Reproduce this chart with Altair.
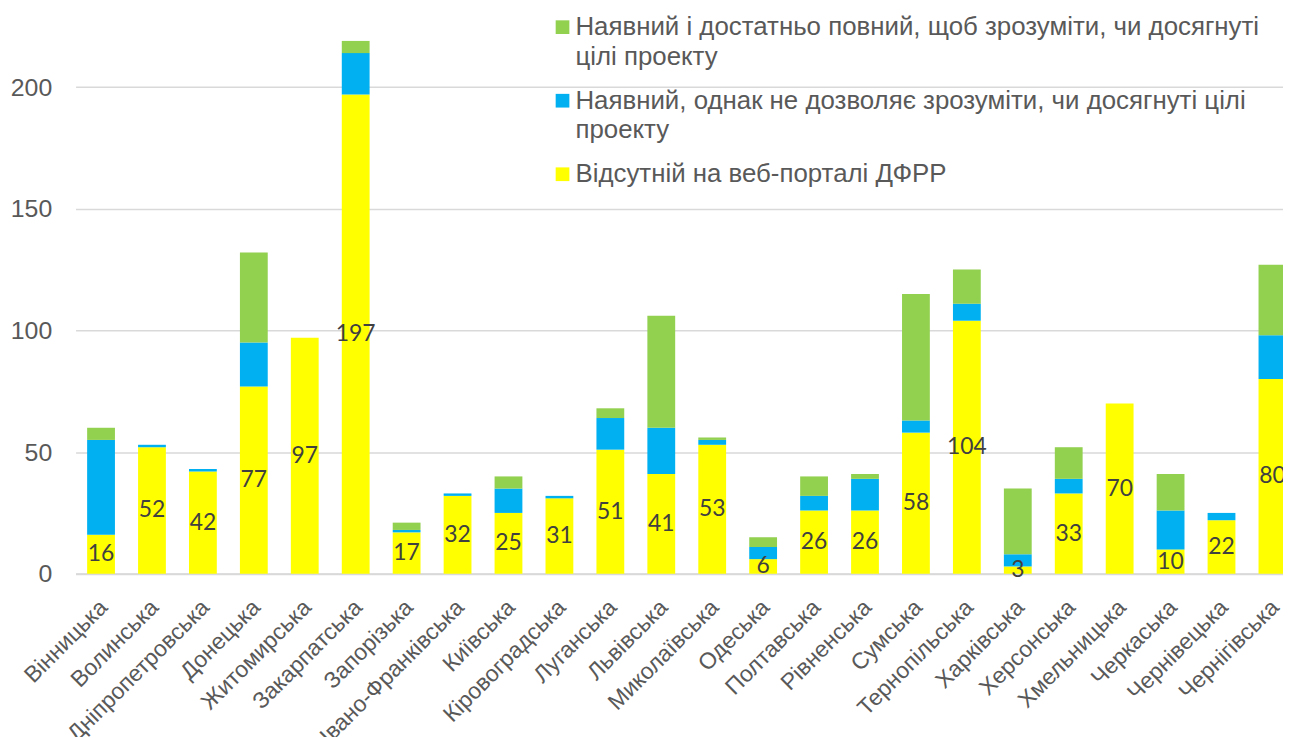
import altair as alt
import pandas as pd

regions = ["Вінницька", "Волинська", "Дніпропетровська", "Донецька", "Житомирська",
           "Закарпатська", "Запорізька", "Івано-Франківська", "Київська", "Кіровоградська",
           "Луганська", "Львівська", "Миколаївська", "Одеська", "Полтавська", "Рівненська",
           "Сумська", "Тернопільська", "Харківська", "Херсонська", "Хмельницька",
           "Черкаська", "Чернівецька", "Чернігівська"]

s_full = "Наявний і достатньо повний, щоб зрозуміти, чи досягнуті цілі проекту"
s_part = "Наявний, однак не дозволяє зрозуміти, чи досягнуті цілі проекту"
s_abs = "Відсутній на веб-порталі ДФРР"

absent = [16, 52, 42, 77, 97, 197, 17, 32, 25, 31, 51, 41, 53, 6, 26, 26, 58, 104, 3, 33, 70, 10, 22, 80]
partial = [39, 1, 1, 18, 0, 17, 1, 1, 10, 1, 13, 19, 2, 5, 6, 13, 5, 7, 5, 6, 0, 16, 3, 18]
full = [5, 0, 0, 37, 0, 5, 3, 0, 5, 0, 4, 46, 1, 4, 8, 2, 52, 14, 27, 13, 0, 15, 0, 29]

series_order = [s_full, s_part, s_abs]
colors = ["#92D050", "#00B0F0", "#FFFF00"]
legend_lines = {
    s_full: ["Наявний і достатньо повний, щоб зрозуміти, чи досягнуті", "цілі проекту"],
    s_part: ["Наявний, однак не дозволяє зрозуміти, чи досягнуті цілі", "проекту"],
}

rows = []
for i, r in enumerate(regions):
    rows.append({"region": r, "series": s_abs, "value": absent[i], "ord": 0})
    rows.append({"region": r, "series": s_part, "value": partial[i], "ord": 1})
    rows.append({"region": r, "series": s_full, "value": full[i], "ord": 2})
df = pd.DataFrame(rows)

def arr(lines):
    return "[" + ", ".join("'" + l + "'" for l in lines) + "]"

label_expr = ("datum.label == '" + s_full + "' ? " + arr(legend_lines[s_full]) +
              " : datum.label == '" + s_part + "' ? " + arr(legend_lines[s_part]) +
              " : datum.label")

x_enc = alt.X("region:N", sort=regions, title=None,
              scale=alt.Scale(range=[0, 1230], paddingInner=0.454, paddingOuter=0.227),
              axis=alt.Axis(labelAngle=-45, labelFontSize=23, labelColor="#595959",
                            labelFont="Liberation Sans", labelPadding=22, labelOffset=-5,
                            ticks=False, domainColor="#D9D9D9", domainWidth=2,
                            labelLimit=400))

bars = alt.Chart(df).mark_bar().encode(
    x=x_enc,
    y=alt.Y("value:Q", stack="zero", title=None,
            scale=alt.Scale(domain=[0, 231.6], nice=False),
            axis=alt.Axis(values=[0, 50, 100, 150, 200], labelFontSize=25,
                          labelColor="#595959", labelFont="Liberation Sans",
                          labelPadding=24, domain=False, ticks=False,
                          gridColor="#D9D9D9", gridWidth=1.5)),
    color=alt.Color("series:N", scale=alt.Scale(domain=series_order, range=colors),
                    legend=alt.Legend(title=None, orient="none", legendX=477, legendY=4,
                                      symbolType="square", symbolSize=190,
                                      symbolStrokeWidth=0, labelFontSize=26,
                                      labelColor="#595959", labelFont="Liberation Sans",
                                      labelLimit=1000, labelOffset=0, rowPadding=18,
                                      padding=0, labelExpr=label_expr)),
    order=alt.Order("ord:Q", sort="ascending"),
)

labels = alt.Chart(df).transform_filter(
    alt.datum.series == s_abs
).transform_calculate(
    mid="datum.value / 2"
).mark_text(font="Lato", fontSize=23, color="#404040", baseline="middle").encode(
    x=alt.X("region:N", sort=regions),
    y=alt.Y("mid:Q"),
    text=alt.Text("value:Q"),
)

chart = alt.layer(bars, labels).properties(
    width=1215, height=567,
    autosize=alt.AutoSizeParams(type="none"),
    padding={"left": 68, "top": 0, "right": 0, "bottom": 162},
).configure(
    view=alt.ViewConfig(stroke=None),
    style={"guide-label": {"lineHeight": 30}},
)

chart.save("out.html", embed_options={"renderer": "svg", "actions": False})
